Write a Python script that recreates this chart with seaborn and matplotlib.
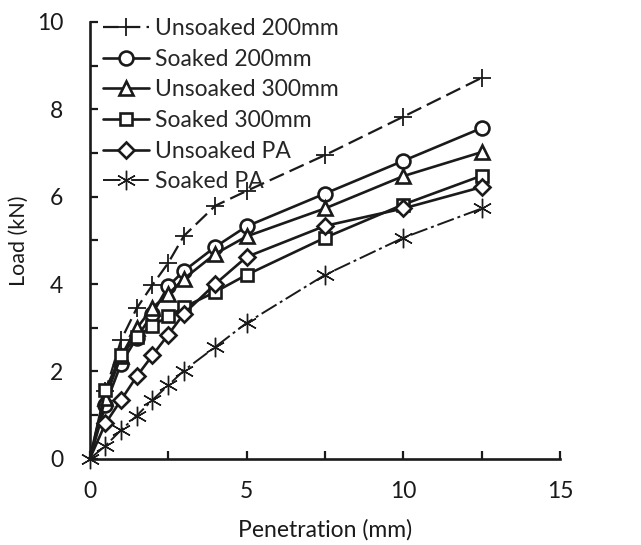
import pandas as pd
import matplotlib.pyplot as plt
import seaborn as sns
from matplotlib.ticker import MultipleLocator

# Penetration values (mm)
penetration = [0, 0.5, 1, 1.5, 2, 2.5, 3, 4, 5, 7.5, 10, 12.5]

# Load values (kN)
unsoaked_200 = [0, 1.55, 2.72, 3.45, 3.98, 4.48, 5.10, 5.79, 6.13, 6.95, 7.83, 8.72]
soaked_200 = [0, 1.23, 2.18, 2.77, 3.32, 3.95, 4.30, 4.85, 5.32, 6.07, 6.82, 7.57]
unsoaked_300 = [0, 1.40, 2.35, 2.99, 3.46, 3.77, 4.12, 4.69, 5.09, 5.73, 6.47, 7.02]
soaked_300 = [0, 1.57, 2.38, 2.79, 3.05, 3.26, 3.47, 3.82, 4.21, 5.06, 5.82, 6.48]
unsoaked_pa = [0, 0.81, 1.35, 1.89, 2.37, 2.84, 3.32, 4.00, 4.62, 5.33, 5.73, 6.22]
soaked_pa = [0, 0.30, 0.66, 0.99, 1.35, 1.68, 2.02, 2.56, 3.11, 4.21, 5.06, 5.73]

series_names = ['Unsoaked 200mm', 'Soaked 200mm', 'Unsoaked 300mm',
                'Soaked 300mm', 'Unsoaked PA', 'Soaked PA']
series_values = [unsoaked_200, soaked_200, unsoaked_300,
                 soaked_300, unsoaked_pa, soaked_pa]

# Long-form table for seaborn
df = pd.DataFrame({
    'Penetration': penetration * len(series_names),
    'Load': [v for vals in series_values for v in vals],
    'Series': [name for name in series_names for _ in penetration],
})

sns.set_style('ticks')
plt.rcParams['font.family'] = ['Lato', 'DejaVu Sans']

ink = '#1a1a1a'
fs = 16.5

styles = {
    'Unsoaked 200mm': dict(marker='+', ms=13, mew=1.3, dashes=(7, 2.8), lw=1.6),
    'Soaked 200mm': dict(marker='o', ms=10, mew=1.9, dashes=None, lw=1.9),
    'Unsoaked 300mm': dict(marker='^', ms=10, mew=1.9, dashes=None, lw=1.9),
    'Soaked 300mm': dict(marker='s', ms=9, mew=1.9, dashes=None, lw=1.9),
    'Unsoaked PA': dict(marker='D', ms=8, mew=1.9, dashes=None, lw=1.9),
    'Soaked PA': dict(marker=(6, 2, 0), ms=14, mew=1.0, dashes=(9, 2, 1.5, 2), lw=1.4),
}

fig = plt.figure(figsize=(6.41, 5.45), dpi=100)
ax = fig.add_axes([0.140, 0.158, 0.734, 0.802])

for name in series_names:
    st = styles[name]
    sub = df[df['Series'] == name]
    kw = dict(color=ink, marker=st['marker'], markersize=st['ms'],
              markeredgewidth=st['mew'], markerfacecolor='white',
              markeredgecolor=ink, linewidth=st['lw'], label=name,
              clip_on=False)
    if name != 'Soaked PA':
        kw['markevery'] = slice(1, None)
    if st['dashes'] is not None:
        kw['dashes'] = st['dashes']
    sns.lineplot(data=sub, x='Penetration', y='Load', ax=ax, **kw)

ax.set_xlim(0, 15)
ax.set_ylim(0, 10)
ax.xaxis.set_major_locator(MultipleLocator(5))
ax.xaxis.set_minor_locator(MultipleLocator(2.5))
ax.yaxis.set_major_locator(MultipleLocator(2))
ax.yaxis.set_minor_locator(MultipleLocator(1))
ax.tick_params(axis='both', which='both', direction='in', length=6, width=1.6,
               color=ink, labelsize=fs, labelcolor=ink)
ax.tick_params(axis='x', which='major', pad=16)
ax.tick_params(axis='y', which='major', pad=19)

for side in ['top', 'right']:
    ax.spines[side].set_visible(False)
for side in ['left', 'bottom']:
    ax.spines[side].set_linewidth(1.9)
    ax.spines[side].set_color(ink)

ax.set_xlabel('Penetration (mm)', fontsize=fs, color=ink, labelpad=12)
ax.set_ylabel('Load (kN)', fontsize=15.5, color=ink, labelpad=6)

ax.legend(loc='upper left', bbox_to_anchor=(0.0, 1.04), frameon=False,
          fontsize=fs, handlelength=2.0, handletextpad=0.25, labelspacing=0.42,
          borderaxespad=0.2)

plt.savefig('out.png', dpi=100)
